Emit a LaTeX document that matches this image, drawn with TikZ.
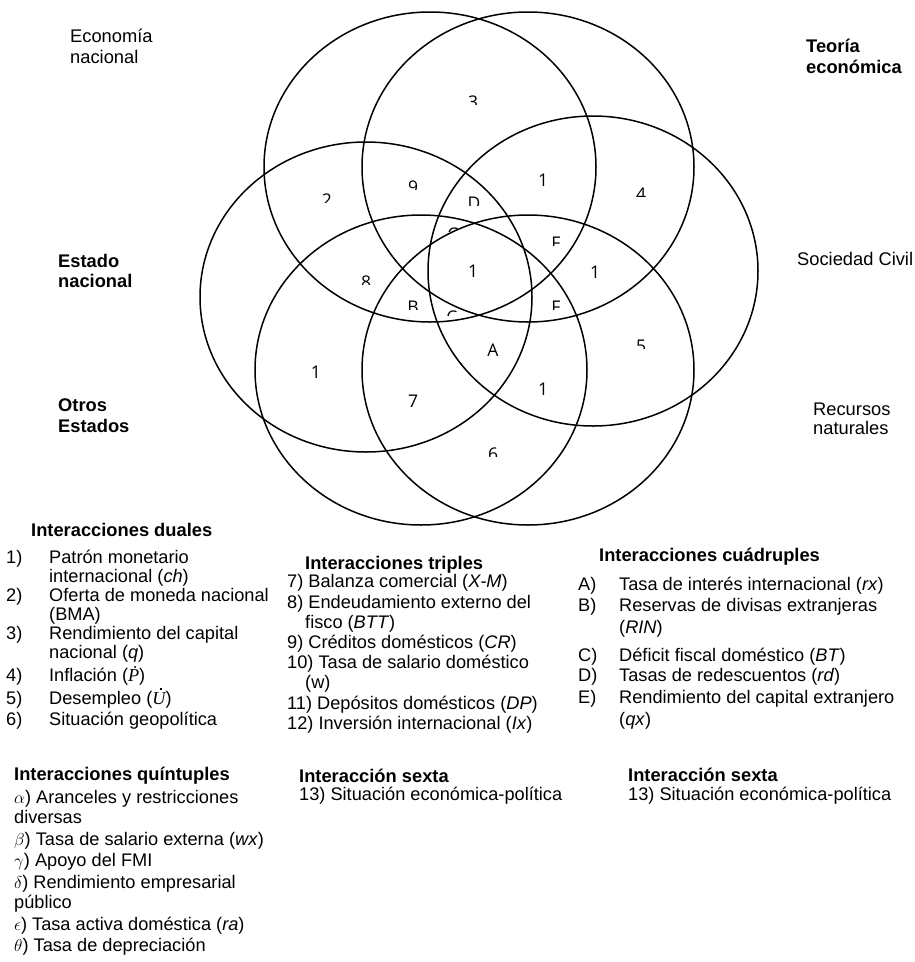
\documentclass[tikz,border=0pt]{standalone}
\usepackage{fontspec}
\setmainfont{Liberation Sans}
\newfontfamily\vennfont{Open Sans}
\newfontfamily\varfont{Liberation Serif}

% a region label whose text box cuts the glyphs above the baseline
\newcommand\cutnum[5]{%
  \begin{scope}
    \clip (#2-16,#3-26) rectangle (#2+16,#5);
    \node[num] (#1) at (#2,#3) {#4};
  \end{scope}}

% time-derivative variables, set in a serif italic
\newcommand\dotP{{\varfont\itshape Ṗ}}
\newcommand\dotU{{\varfont\itshape\rlap{\hspace{0.42em}\raisebox{0.76em}{\rule{1.7pt}{1.7pt}}}U}}

\begin{document}
\begin{tikzpicture}[x=1pt,y=-1pt,
  set/.style={line width=1.5pt},
  num/.style={anchor=base, inner sep=0pt, font=\vennfont\fontsize{17.5}{18}\selectfont},
  lab/.style={anchor=base west, inner sep=0pt, text height=13.5pt, text depth=4pt,
              font=\fontsize{18.3}{20}\selectfont},
  blab/.style={lab, font=\fontsize{18.3}{20}\selectfont\bfseries},
  txt/.style={anchor=base west, inner sep=0pt, text height=13.5pt, text depth=4pt,
              font=\fontsize{18.2}{20}\selectfont},
  head/.style={txt, font=\fontsize{18.3}{20}\selectfont\bfseries}]

\useasboundingbox (0,0) rectangle (915,962);
\fill[white] (0,0) rectangle (915,962);

% the six overlapping sets
\draw[set] (430,167) ellipse [x radius=166pt, y radius=155pt];
\draw[set] (528,167) ellipse [x radius=166pt, y radius=155pt];
\draw[set] (593,271) ellipse [x radius=165pt, y radius=155pt];
\draw[set] (528,370) ellipse [x radius=166pt, y radius=155pt];
\draw[set] (421,370) ellipse [x radius=166pt, y radius=155pt];
\draw[set] (366,297) ellipse [x radius=166pt, y radius=155pt];

% set names
\node[lab]  (en1) at (70,42)  {Economía};
\node[lab]  (en2) at (70,63)  {nacional};
\node[blab] (te1) at (806,52) {Teoría};
\node[blab] (te2) at (806,73) {económica};
\node[blab] (es1) at (58,267) {Estado};
\node[blab] (es2) at (58,287) {nacional};
\node[lab]  (sc)  at (797,265) {Sociedad Civil};
\node[blab] (ot1) at (58,411) {Otros};
\node[blab] (ot2) at (58,432) {Estados};
\node[lab]  (rn1) at (813,415) {Recursos};
\node[lab]  (rn2) at (813,434) {naturales};

% region labels
\cutnum{r3}{473}{108}{3}{104.5}
\cutnum{r9}{413}{193}{9}{189.5}
\cutnum{r2}{327}{206}{2}{202.5}
\cutnum{rD}{474}{209}{D}{205.5}
\node[num] (r10) at (543,186) {1};
\cutnum{r4}{641}{200}{4}{196.5}
\cutnum{rC1}{453}{240}{C}{231}
\cutnum{rE1}{556}{249}{F}{245.5}
\node[num] (r13) at (473,277) {1};
\node[num] (r11) at (595,278) {1};
\cutnum{r8}{366}{288}{8}{284.5}
\cutnum{rB}{413}{313}{B}{309.5}
\cutnum{rC2}{452}{323}{C}{315.5}
\cutnum{rE2}{556}{313}{F}{309.5}
\node[num] (rA) at (493,356) {A};
\cutnum{r5}{641}{352}{5}{348.5}
\node[num] (r1) at (316,378) {1};
\node[num] (r7) at (413,407) {7};
\node[num] (r12) at (543,395) {1};
\cutnum{r6}{493}{460}{6}{456.5}

% dual interactions
\node[head] (hd)  at (31,536) {Interacciones duales};
\node[txt]  (d1)  at (6,563)  {\makebox[43pt][l]{1)}Patrón monetario};
\node[txt]  (d1b) at (49,582) {internacional (\textit{ch})};
\node[txt]  (d2)  at (6,601)  {\makebox[43pt][l]{2)}Oferta de moneda nacional};
\node[txt]  (d2b) at (49,620) {(BMA)};
\node[txt]  (d3)  at (6,639)  {\makebox[43pt][l]{3)}Rendimiento del capital};
\node[txt]  (d3b) at (49,658) {nacional (\textit{q})};
\node[txt]  (d4)  at (6,681)  {\makebox[43pt][l]{4)}Inflación (\dotP)};
\node[txt]  (d5)  at (6,704)  {\makebox[43pt][l]{5)}Desempleo (\dotU)};
\node[txt]  (d6)  at (6,725)  {\makebox[43pt][l]{6)}Situación geopolítica};

% triple interactions
\node[head] (ht)   at (305,569) {Interacciones triples};
\node[txt]  (t7)   at (287,587) {7) Balanza comercial (\textit{X-M})};
\node[txt]  (t8)   at (287,608) {8) Endeudamiento externo del};
\node[txt]  (t8b)  at (305,628) {fisco (\textit{BTT})};
\node[txt]  (t9)   at (287,648) {9) Créditos domésticos (\textit{CR})};
\node[txt]  (t10)  at (287,668) {10) Tasa de salario doméstico};
\node[txt]  (t10b) at (305,688) {(w)};
\node[txt]  (t11)  at (287,709) {11) Depósitos domésticos (\textit{DP})};
\node[txt]  (t12)  at (287,729) {12) Inversión internacional (\textit{Ix})};

% quadruple interactions
\node[head] (hc)  at (599,561) {Interacciones cuádruples};
\node[txt]  (qa)  at (578,590) {\makebox[41pt][l]{A)}Tasa de interés internacional (\textit{rx})};
\node[txt]  (qb)  at (578,611) {\makebox[41pt][l]{B)}Reservas de divisas extranjeras};
\node[txt]  (qbb) at (619,633) {(\textit{RIN})};
\node[txt]  (qc)  at (578,661) {\makebox[41pt][l]{C)}Déficit fiscal doméstico (\textit{BT})};
\node[txt]  (qd)  at (578,681) {\makebox[41pt][l]{D)}Tasas de redescuentos (\textit{rd})};
\node[txt]  (qe)  at (578,703) {\makebox[41pt][l]{E)}Rendimiento del capital extranjero};
\node[txt]  (qeb) at (619,725) {(\textit{qx})};

% quintuple interactions
\node[head] (hq)  at (14,780) {Interacciones quíntuples};
\node[txt]  (g1)  at (14,803) {$\alpha$) Aranceles y restricciones};
\node[txt]  (g1b) at (14,823) {diversas};
\node[txt]  (g2)  at (14,845) {$\beta$) Tasa de salario externa (\textit{wx})};
\node[txt]  (g3)  at (14,866) {$\gamma$) Apoyo del FMI};
\node[txt]  (g4)  at (14,888) {$\delta$) Rendimiento empresarial};
\node[txt]  (g4b) at (14,908) {público};
\node[txt]  (g5)  at (14,930) {$\epsilon$) Tasa activa doméstica (\textit{ra})};
\node[txt]  (g6)  at (14,951) {$\theta$) Tasa de depreciación};

% sixfold interaction
\node[head] (hs1) at (299,782) {Interacción sexta};
\node[txt]  (s1)  at (299,800) {13) Situación económica-política};
\node[head] (hs2) at (628,781) {Interacción sexta};
\node[txt]  (s2)  at (628,800) {13) Situación económica-política};

\end{tikzpicture}
\end{document}
